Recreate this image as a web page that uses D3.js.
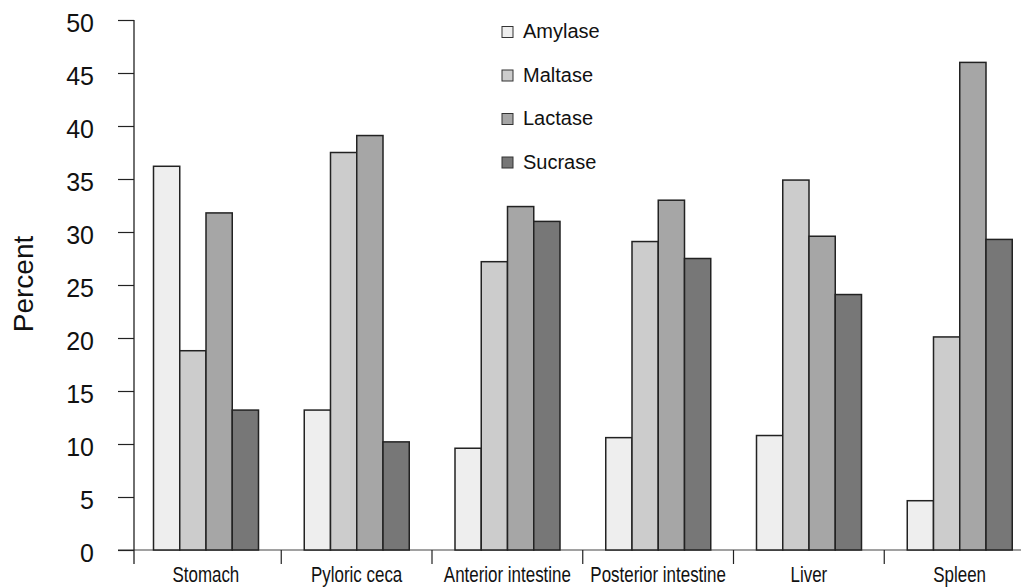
<!DOCTYPE html>
<html lang="en">
<head>
    <meta charset="UTF-8">
    <title>Enzyme activity by tissue</title>
    <script src="https://cdn.jsdelivr.net/npm/d3@7"></script>
    <style>
        body, html {
            margin: 0;
            padding: 0;
            background: #fff;
            overflow: hidden;
        }
        svg {
            display: block;
        }
    </style>
</head>
<body>
    <svg id="mainsvg"></svg>
    <script>
        // data
        const tissues = ['Stomach', 'Pyloric ceca', 'Anterior intestine', 'Posterior intestine', 'Liver', 'Spleen'];
        const enzymes = ['Amylase', 'Maltase', 'Lactase', 'Sucrase'];
        const amylase = [36.2, 13.2, 9.6, 10.6, 10.8, 4.65];
        const maltase = [18.8, 37.5, 27.2, 29.1, 34.9, 20.1];
        const lactase = [31.8, 39.1, 32.4, 33.0, 29.6, 46.0];
        const sucrase = [13.2, 10.2, 31.0, 27.5, 24.1, 29.3];
        const yTicks = [0, 5, 10, 15, 20, 25, 30, 35, 40, 45, 50];
        const fills = ['#eeeeee', '#cccccc', '#a6a6a6', '#777777'];

        const seriesValues = [amylase, maltase, lactase, sucrase];

        const width = 1021, height = 587;
        const svg = d3.select('#mainsvg').attr('width', width).attr('height', height);

        const axisX = 134;
        const yScale = d3.scaleLinear().domain([0, 50]).range([550, 20]);
        const x0 = d3.scaleBand().domain(tissues).range([130.5, 1035]).padding(0);
        const x1 = d3.scaleBand().domain(enzymes).range([23, 128]).padding(0);
        const color = d3.scaleOrdinal().domain(enzymes).range(fills);

        const rows = [];
        tissues.forEach((t, i) => {
            enzymes.forEach((e, j) => {
                rows.push({ tissue: t, enzyme: e, value: seriesValues[j][i] });
            });
        });

        // x baseline and category separators
        svg.append('line')
            .attr('x1', 118).attr('x2', width)
            .attr('y1', yScale(0)).attr('y2', yScale(0))
            .attr('stroke', '#444').attr('stroke-width', 1.2);

        svg.selectAll('.sep').data(tissues.slice(1)).enter().append('line')
            .attr('class', 'sep')
            .attr('x1', d => x0(d)).attr('x2', d => x0(d))
            .attr('y1', yScale(0)).attr('y2', yScale(0) + 14)
            .attr('stroke', '#222').attr('stroke-width', 1.2);

        // bars
        svg.selectAll('.bar').data(rows).enter().append('rect')
            .attr('class', 'bar')
            .attr('x', d => x0(d.tissue) + x1(d.enzyme))
            .attr('y', d => yScale(d.value))
            .attr('width', x1.bandwidth())
            .attr('height', d => yScale(0) - yScale(d.value))
            .attr('fill', d => color(d.enzyme))
            .attr('stroke', '#222')
            .attr('stroke-width', 1.5);

        // y axis
        const yAxis = d3.axisLeft(yScale).tickValues(yTicks).tickSize(16).tickPadding(24);
        const yAxisGroup = svg.append('g')
            .attr('transform', `translate(${axisX}, 0)`)
            .call(yAxis);
        yAxisGroup.select('.domain').remove();
        yAxisGroup.selectAll('.tick line').attr('stroke', '#222').attr('stroke-width', 1.2);
        yAxisGroup.selectAll('.tick text')
            .attr('font-family', 'Liberation Sans, Arial, sans-serif')
            .attr('font-size', '25px')
            .attr('fill', '#111')
            .attr('dy', '0.45em');
        svg.append('line')
            .attr('x1', axisX).attr('x2', axisX)
            .attr('y1', yScale(50)).attr('y2', yScale(0) + 14)
            .attr('stroke', '#222').attr('stroke-width', 1.3);

        svg.append('text')
            .attr('transform', `translate(33, 284) rotate(-90)`)
            .attr('text-anchor', 'middle')
            .attr('font-family', 'Liberation Sans, Arial, sans-serif')
            .attr('font-size', '28px')
            .attr('fill', '#111')
            .text('Percent');

        // category labels (condensed like a narrow face)
        svg.selectAll('.xlab').data(tissues).enter().append('text')
            .attr('class', 'xlab')
            .attr('transform', d => `translate(${x0(d) + x0.bandwidth() / 2}, 582) scale(0.77, 1)`)
            .attr('text-anchor', 'middle')
            .attr('font-family', 'Liberation Sans, Arial, sans-serif')
            .attr('font-size', '22px')
            .attr('fill', '#111')
            .text(d => d);

        // legend
        const legend = svg.append('g').attr('transform', 'translate(502, 32)');
        const items = legend.selectAll('g').data(enzymes).enter().append('g')
            .attr('transform', (d, i) => `translate(0, ${i * 43.5})`);
        items.append('rect')
            .attr('x', 0).attr('y', -5.5)
            .attr('width', 11).attr('height', 11)
            .attr('fill', d => color(d))
            .attr('stroke', '#333').attr('stroke-width', 1);
        items.append('text')
            .attr('x', 21).attr('y', 6)
            .attr('font-family', 'Liberation Sans, Arial, sans-serif')
            .attr('font-size', '20px')
            .attr('fill', '#111')
            .text(d => d);
    </script>
</body>
</html>
